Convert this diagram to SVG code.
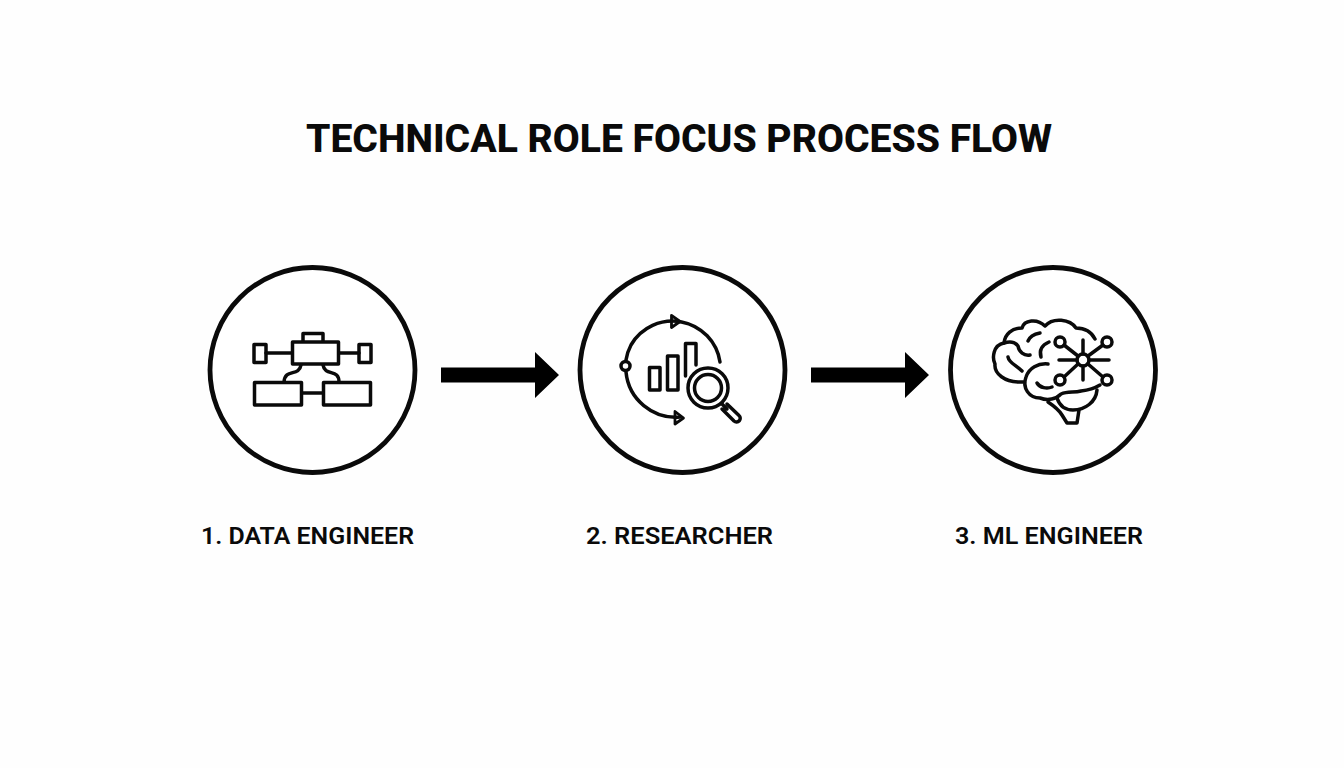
<svg xmlns="http://www.w3.org/2000/svg" width="1344" height="768" viewBox="0 0 1344 768">
<style>
.t{font-family:Roboto,"Liberation Sans",sans-serif;font-weight:700;fill:#0a0a0a}
.title{font-size:38px;font-weight:800}
.lab{font-size:24px;font-weight:600}
.ring{fill:#fff;stroke:#0a0a0a;stroke-width:4.800}
.ic{fill:none;stroke:#0a0a0a;stroke-width:3.500;stroke-linecap:round;stroke-linejoin:round}
.thin{stroke-width:2.800}
.ar{fill:#000}
</style>
<rect width="1344" height="768" fill="#fefefe"/>
<text id="title" class="t title" x="306" y="151.500" textLength="746" lengthAdjust="spacingAndGlyphs">TECHNICAL ROLE FOCUS PROCESS FLOW</text>
<g id="connectors">
<path class="ar" d="M441 367.500H535V352L559 375L535 398V382.500H441Z"/>
<path class="ar" d="M811 367.500H905V352L929 375L905 398V382.500H811Z"/>
</g>
<g id="node1">
<circle class="ring" cx="312.500" cy="370" r="102.500"/>
<g class="ic">
<path d="M303 341V333.500H323V341"/>
<rect x="292.500" y="342" width="46" height="22"/>
<rect x="254" y="344.500" width="12" height="18"/>
<rect x="359" y="344.500" width="12" height="18"/>
<path d="M266 353H292M339 353H359"/>
<rect x="254.500" y="382.500" width="47" height="22.500"/>
<rect x="323.500" y="382.500" width="47" height="22.500"/>
<path d="M302 393H323"/>
<path d="M301 365C299 377 285 368 284 382M323 365C325 377 339 368 339 382"/>
</g>
<text class="t lab" x="201" y="544" textLength="213" lengthAdjust="spacingAndGlyphs">1. DATA ENGINEER</text>
</g>
<g id="node2">
<circle class="ring" cx="682.500" cy="370" r="102.500"/>
<g class="ic">
<path d="M720 362A48 48 0 0 0 631 345A48 48 0 0 0 626 360"/>
<path d="M626 372A50 50 0 0 0 680 417"/>
<circle cx="625.500" cy="366" r="4.500"/>
<path class="thin" d="M671.500 315.500L680 321.500L671.500 327.500Z"/>
<path class="thin" d="M675 411.500L683.500 418L675 424Z"/>
<rect x="649.500" y="367.500" width="10.500" height="22.500"/>
<rect x="667.500" y="356" width="10.500" height="34"/>
<path d="M685.500 376V343.500H696V365"/>
<circle cx="708" cy="388" r="20"/>
<circle cx="708" cy="388" r="13.500"/>
<path d="M722 404L727 409M727 404L739 415.500A3.500 3.500 0 0 1 734 421L722 409"/>
</g>
<text class="t lab" x="586" y="544" textLength="187" lengthAdjust="spacingAndGlyphs">2. RESEARCHER</text>
</g>
<g id="node3">
<circle class="ring" cx="1053" cy="370" r="102.500"/>
<g class="ic">
<path d="M1095 339C1091 331 1085 328 1076 328C1070 319 1053 317 1045 326C1037 318 1024 320 1022 328C1012 328 1005 334 1004 343C993 345 992 358 995 364C994 373 1004 383 1023 382"/>
<path d="M1004 343C1010 341 1015 342 1018 346C1019 352 1024 356 1030 355"/>
<path d="M1028 341C1030 336 1035 334 1040 333"/>
<path d="M1041 357C1039 350 1042 345 1049 342"/>
<path d="M1008 357C1009 363 1016 365 1022 371"/>
<path d="M1048 364C1038 363 1029 368 1026 377C1022 388 1029 398 1040 398C1048 401 1056 399 1061 394C1068 391 1074 393 1081 391C1089 390 1095 388 1100 385"/>
<path d="M1037 383C1040 388 1047 389 1052 387"/>
<path d="M1097 390C1096 402 1085 410 1073 410C1066 410 1060 407 1057 398"/>
<path d="M1048 402C1054 406 1059 410 1062 415L1067 423H1077L1079 410"/>
<path d="M1059 360H1077M1089 360H1109M1083 340V354M1083 366V380"/>
<path d="M1064 345L1078 356M1103 345L1088 356M1064 377L1078 364M1103 377L1088 364"/>
<circle cx="1083" cy="360" r="6"/>
<circle cx="1060" cy="342" r="5"/>
<circle cx="1107" cy="342" r="5"/>
<circle cx="1060" cy="380" r="5"/>
<circle cx="1107" cy="380" r="5"/>
</g>
<text class="t lab" x="955" y="544" textLength="188" lengthAdjust="spacingAndGlyphs">3. ML ENGINEER</text>
</g>
</svg>
